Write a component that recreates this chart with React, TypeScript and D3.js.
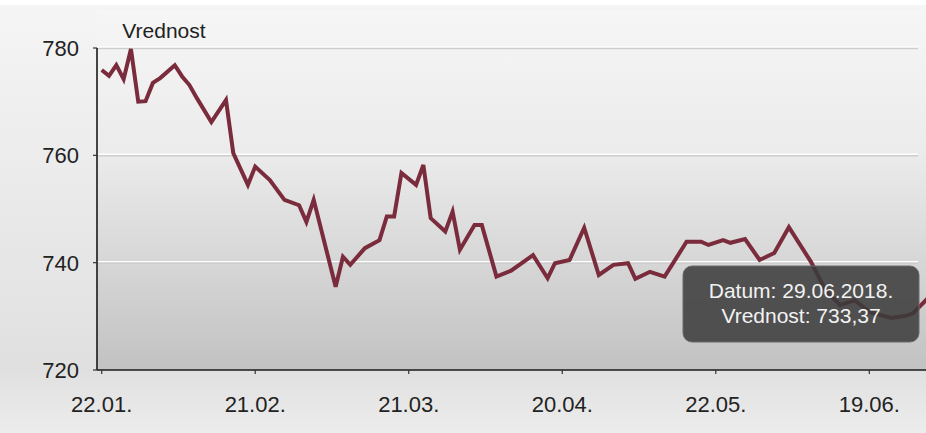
import React from "react";
import * as d3 from "d3";

// trading-day index since 22.01.2018 and index value
const dayIndex = [0, 1, 2, 3, 4, 5, 6, 7, 8, 10, 11, 12, 13, 15, 17, 18, 20, 21, 23, 25, 27, 28, 29, 32, 33, 34, 36, 38, 39, 40, 41, 43, 44, 45, 47, 48, 49, 51, 52, 54, 56, 59, 61, 62, 64, 66, 68, 70, 72, 73, 75, 77, 80, 82, 83, 85, 86, 88, 90, 92, 94, 97, 99, 101, 103, 105, 108, 110, 111, 113];
const values = [775.9, 774.8, 776.8, 774.2, 779.8, 770.0, 770.1, 773.5, 774.4, 776.8, 774.7, 773.1, 770.7, 766.2, 770.3, 760.4, 754.5, 757.9, 755.4, 751.7, 750.7, 747.6, 751.7, 735.5, 741.1, 739.6, 742.7, 744.2, 748.6, 748.6, 756.7, 754.5, 758.2, 748.3, 745.8, 749.5, 742.4, 747.0, 747.0, 737.4, 738.5, 741.4, 737.1, 739.9, 740.5, 746.5, 737.7, 739.6, 739.9, 737.0, 738.3, 737.4, 743.9, 743.9, 743.3, 744.2, 743.7, 744.4, 740.5, 741.8, 746.6, 740.2, 734.9, 732.1, 733.0, 730.8, 729.7, 730.1, 730.6, 733.37];

const tickIndex = [0, 21, 42, 63, 84, 105];
const tickLabels = ["22.01.", "21.02.", "21.03.", "20.04.", "22.05.", "19.06."];
const yTicks = [720, 740, 760, 780];
const yGrid = [740, 760, 780];
const seriesName = "Vrednost";
const tooltipLines = ["Datum: 29.06.2018.", "Vrednost: 733,37"];

const W = 926;
const H = 433;
const axisX = 97;
const axisY = 370;

export default function App() {
  const x = d3.scaleLinear().domain([0, 105]).range([101.7, 869.3]);
  const y = d3.scaleLinear().domain([720, 780]).range([370, 48]);
  const pts = dayIndex.map((d, i) => [d, values[i]] as [number, number]);
  const line = d3
    .line<[number, number]>()
    .x((d) => x(d[0]))
    .y((d) => y(d[1]));
  const font = "'Liberation Sans', Arial, sans-serif";

  return (
    <svg
      width={W}
      height={H}
      style={{ position: "fixed", left: 0, top: 0, display: "block" }}
    >
      <defs>
        <linearGradient id="bg" x1="0" y1="0" x2="0" y2="1">
          <stop offset="0%" stopColor="#f5f5f5" />
          <stop offset="85%" stopColor="#e0e0e0" />
          <stop offset="100%" stopColor="#ececec" />
        </linearGradient>
        <linearGradient id="plot" x1="0" y1="0" x2="0" y2="1">
          <stop offset="0%" stopColor="#f6f6f6" />
          <stop offset="40%" stopColor="#ebebeb" />
          <stop offset="100%" stopColor="#c2c2c2" />
        </linearGradient>
      </defs>
      <rect x={0} y={0} width={W} height={H} fill="url(#bg)" />
      <rect x={axisX} y={10} width={W - axisX} height={axisY - 10} fill="url(#plot)" />
      <rect x={0} y={0} width={W} height={5} fill="#ffffff" />

      {yGrid.map((v) => (
        <g key={v}>
          <line x1={axisX} x2={918} y1={y(v) - 1} y2={y(v) - 1} stroke="#ffffff" strokeWidth={1.5} />
          <line x1={axisX} x2={918} y1={y(v) + 0.5} y2={y(v) + 0.5} stroke="#cdcdcd" strokeWidth={1.5} />
        </g>
      ))}

      <path d={line(pts) || ""} fill="none" stroke="#7a2b3c" strokeWidth={4} strokeLinejoin="miter" />

      <line x1={axisX} x2={axisX} y1={y(780)} y2={axisY} stroke="#1a1a1a" strokeWidth={1.6} />
      <line x1={axisX} x2={W} y1={axisY} y2={axisY} stroke="#1a1a1a" strokeWidth={1.6} />

      {yTicks.map((v) => (
        <g key={v}>
          <line x1={axisX - 4} x2={axisX} y1={y(v)} y2={y(v)} stroke="#333" strokeWidth={1.2} />
          <text x={79} y={y(v) + 8} textAnchor="end" fontFamily={font} fontSize={22} fill="#222">
            {v}
          </text>
        </g>
      ))}

      {tickIndex.map((t, i) => (
        <g key={t}>
          <line x1={x(t)} x2={x(t)} y1={axisY} y2={axisY + 4} stroke="#333" strokeWidth={1.2} />
          <text x={x(t)} y={axisY + 42} textAnchor="middle" fontFamily={font} fontSize={22} fill="#222">
            {tickLabels[i]}
          </text>
        </g>
      ))}

      <text x={164} y={38} textAnchor="middle" fontFamily={font} fontSize={21} fill="#222">
        {seriesName}
      </text>

      <g>
        <rect x={683} y={266} width={236} height={76} rx={9} fill="#3a3a3a" fillOpacity={0.86} stroke="#6a6a6a" strokeWidth={1} />
        {tooltipLines.map((t, i) => (
          <text key={i} x={801} y={298 + i * 25} textAnchor="middle" fontFamily={font} fontSize={21} fill="#f2f2f2">
            {t}
          </text>
        ))}
      </g>
    </svg>
  );
}
